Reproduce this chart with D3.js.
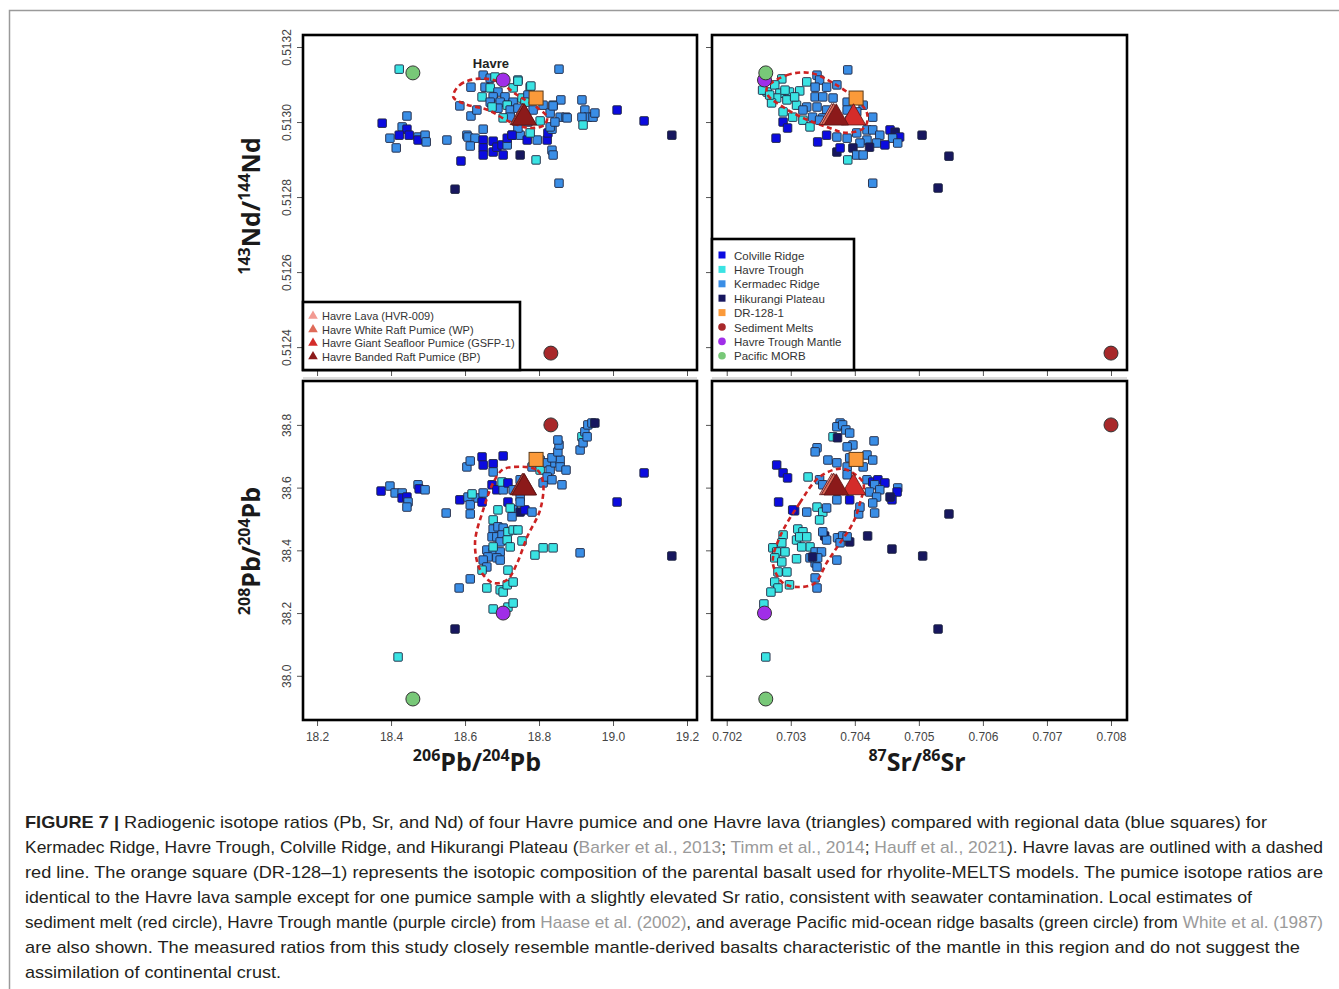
<!DOCTYPE html>
<html>
<head>
<meta charset="utf-8">
<script src="https://cdn.jsdelivr.net/npm/d3@7"></script>
<style>
  body { margin: 0; background: #fff; }
  svg { display: block; }
</style>
</head>
<body>
<div id="chart"></div>
<script>
// ---- regional data: [group, x, y] per panel ----
// C = Colville Ridge, H = Havre Trough, K = Kermadec Ridge, P = Hikurangi Plateau
var groupCodes = ["C", "H", "K", "P"];
var groupNames = ["Colville Ridge", "Havre Trough", "Kermadec Ridge", "Hikurangi Plateau"];
var groupColors = ["#0b0be0", "#3ae3e3", "#3a8ee6", "#17175f"];

// 143Nd/144Nd vs 206Pb/204Pb
var ndPbPts = [
  ["C",18.376,0.512997],["K",18.443,0.513016],["K",18.430,0.512987],["C",18.443,0.512981],
  ["C",18.422,0.512965],["K",18.397,0.512957],["C",18.449,0.512965],["K",18.414,0.512931],
  ["K",18.473,0.512960],["C",18.473,0.512952],["K",18.492,0.512965],["K",18.495,0.512947],
  ["K",18.551,0.512952],["H",18.422,0.513141],["K",18.586,0.513043],["K",18.616,0.513093],
  ["K",18.616,0.513016],["K",18.649,0.512981],["K",18.605,0.512965],["K",18.608,0.512960],
  ["K",18.627,0.512957],["K",18.614,0.512936],["C",18.649,0.512952],["C",18.649,0.512931],
  ["C",18.649,0.512912],["C",18.676,0.512920],["C",18.676,0.512949],["C",18.686,0.512933],
  ["C",18.703,0.512912],["C",18.700,0.512939],["K",18.714,0.512939],["C",18.714,0.512957],
  ["K",18.727,0.512965],["K",18.749,0.512965],["C",18.768,0.512952],["P",18.749,0.512912],
  ["C",18.589,0.512896],["P",18.573,0.512821],["H",18.792,0.512899],["K",18.795,0.512952],
  ["C",18.822,0.512952],["C",18.824,0.512971],["K",18.835,0.512981],["K",18.835,0.512925],
  ["K",18.838,0.512912],["K",18.854,0.512837],["K",18.854,0.513141],
  ["K",18.649,0.513125],["K",18.668,0.513117],["H",18.681,0.513120],["H",18.743,0.513112],
  ["K",18.654,0.513093],["H",18.668,0.513091],["H",18.730,0.513091],["H",18.776,0.513093],
  ["K",18.689,0.513080],["K",18.708,0.513067],["K",18.676,0.513067],["H",18.646,0.513067],
  ["H",18.754,0.513064],["K",18.770,0.513072],["K",18.730,0.513053],["K",18.695,0.513053],
  ["K",18.668,0.513053],["H",18.714,0.513045],["K",18.722,0.513032],["H",18.762,0.513053],
  ["K",18.811,0.513045],["H",18.838,0.513045],["K",18.859,0.513059],["K",18.743,0.513037],
  ["K",18.689,0.513037],["H",18.673,0.513040],["K",18.632,0.513032],["K",18.784,0.513032],
  ["K",18.830,0.513024],["K",18.857,0.513013],["K",18.873,0.513013],["K",18.722,0.513013],
  ["H",18.703,0.513011],["H",18.803,0.513003],["K",18.770,0.513000],["K",18.830,0.512987],
  ["K",18.843,0.513000],["K",18.916,0.513059],["K",18.924,0.513032],["K",18.932,0.513013],
  ["K",18.916,0.513013],["K",18.946,0.513013],["K",18.951,0.513024],["H",18.919,0.512992],
  ["K",18.743,0.512984],["H",18.776,0.512971],["C",18.727,0.512965],["C",19.011,0.513032],
  ["C",19.084,0.513003],["P",19.159,0.512965],["K",18.876,0.513011],["K",18.838,0.513043],
  ["H",18.743,0.513109],["H",18.778,0.513096]
];

// 143Nd/144Nd vs 87Sr/86Sr
var ndSrPts = [
  ["K",0.70389,0.513139],["H",0.70263,0.513080],["H",0.70256,0.513085],["H",0.70286,0.513115],
  ["H",0.70275,0.513099],["H",0.70283,0.513077],["H",0.70298,0.513080],["H",0.70314,0.513083],
  ["H",0.70278,0.513064],["H",0.70294,0.513059],["H",0.70309,0.513045],["H",0.70270,0.513051],
  ["H",0.70288,0.513027],["H",0.70303,0.513013],["H",0.70319,0.513005],["H",0.70330,0.512987],
  ["H",0.70325,0.513107],["H",0.70267,0.513072],["H",0.70306,0.513067],["H",0.70291,0.513085],
  ["K",0.70341,0.513125],["K",0.70345,0.513112],["K",0.70338,0.513093],["K",0.70356,0.513093],
  ["K",0.70372,0.513099],["K",0.70338,0.513067],["K",0.70350,0.513067],["K",0.70366,0.513064],
  ["K",0.70388,0.513053],["K",0.70325,0.513040],["K",0.70341,0.513040],["K",0.70356,0.513032],
  ["K",0.70334,0.513013],["K",0.70350,0.513011],["K",0.70319,0.513032],["K",0.70413,0.513045],
  ["K",0.70428,0.513013],["C",0.70288,0.513000],["C",0.70295,0.512984],["C",0.70277,0.512957],
  ["C",0.70342,0.512947],["C",0.70356,0.512965],["K",0.70372,0.512960],["K",0.70388,0.512957],
  ["K",0.70403,0.512971],["K",0.70419,0.512979],["K",0.70428,0.512979],["K",0.70439,0.512965],
  ["K",0.70419,0.512952],["K",0.70434,0.512944],["K",0.70408,0.512944],["C",0.70455,0.512979],
  ["P",0.70463,0.512973],["C",0.70470,0.512960],["K",0.70459,0.512957],["K",0.70467,0.512944],
  ["C",0.70447,0.512939],["P",0.70423,0.512933],["P",0.70397,0.512931],["P",0.70372,0.512920],
  ["C",0.70377,0.512931],["K",0.70403,0.512912],["K",0.70413,0.512912],["H",0.70389,0.512899],
  ["K",0.70428,0.512837],["P",0.70505,0.512965],["P",0.70547,0.512909],["P",0.70530,0.512824],
  ["K",0.70388,0.513032],["K",0.70403,0.513027],["K",0.70392,0.513005],["K",0.70345,0.513005]
];

// 208Pb/204Pb vs 206Pb/204Pb
var pbPbPts = [
  ["C",18.373,38.589],["K",18.397,38.605],["K",18.411,38.583],["K",18.430,38.583],
  ["C",18.430,38.567],["C",18.443,38.570],["K",18.446,38.554],["K",18.443,38.538],
  ["K",18.473,38.609],["C",18.476,38.596],["K",18.492,38.593],["K",18.549,38.519],
  ["C",18.586,38.561],["K",18.584,38.280],["K",18.614,38.309],["P",18.573,38.149],
  ["H",18.419,38.060],["K",18.605,38.666],["K",18.614,38.685],["C",18.646,38.698],
  ["C",18.649,38.672],["C",18.676,38.676],["C",18.703,38.701],["K",18.676,38.650],
  ["K",18.608,38.570],["K",18.614,38.545],["K",18.614,38.516],["K",18.635,38.567],
  ["K",18.649,38.583],["H",18.619,38.580],["C",18.646,38.554],["C",18.673,38.609],
  ["C",18.686,38.593],["K",18.703,38.593],["H",18.700,38.618],["C",18.716,38.615],
  ["C",18.716,38.554],["K",18.730,38.593],["K",18.749,38.625],["K",18.749,38.570],
  ["K",18.730,38.529],["P",18.749,38.522],["C",18.762,38.529],["K",18.781,38.522],
  ["H",18.689,38.529],["H",18.676,38.497],["K",18.727,38.507],["K",18.749,38.554],
  ["H",18.722,38.535],["K",18.781,38.666],["H",18.803,38.656],["K",18.811,38.615],
  ["K",18.803,38.688],["K",18.822,38.679],["K",18.830,38.656],["K",18.822,38.634],
  ["K",18.835,38.625],["K",18.843,38.679],["K",18.857,38.688],["K",18.857,38.666],
  ["K",18.835,38.695],["K",18.851,38.714],["K",18.854,38.736],["K",18.851,38.752],
  ["K",18.873,38.656],["K",18.862,38.609],["K",18.911,38.720],["H",18.916,38.762],
  ["K",18.924,38.778],["K",18.932,38.800],["K",18.943,38.806],["P",18.951,38.806],
  ["K",18.919,38.743],["K",18.930,38.762],["C",19.084,38.647],["C",19.011,38.554],
  ["K",18.911,38.392],["P",19.159,38.382],["K",18.676,38.468],["K",18.689,38.475],
  ["K",18.703,38.471],["K",18.673,38.443],["K",18.686,38.443],["K",18.700,38.449],
  ["H",18.716,38.459],["H",18.730,38.465],["H",18.743,38.465],["K",18.695,38.427],
  ["H",18.714,38.433],["H",18.722,38.411],["H",18.754,38.430],["K",18.659,38.401],
  ["K",18.676,38.395],["K",18.695,38.395],["K",18.662,38.379],["K",18.649,38.369],
  ["K",18.686,38.376],["K",18.695,38.369],["K",18.659,38.347],["H",18.646,38.337],
  ["H",18.676,38.411],["H",18.789,38.385],["H",18.811,38.408],["H",18.838,38.408],
  ["H",18.716,38.337],["H",18.659,38.280],["H",18.695,38.274],["H",18.703,38.267],
  ["H",18.714,38.290],["H",18.730,38.299],["H",18.676,38.213],["H",18.716,38.219],
  ["H",18.730,38.232]
];

// 208Pb/204Pb vs 87Sr/86Sr
var pbSrPts = [
  ["K",0.70377,38.806],["K",0.70372,38.794],["K",0.70381,38.800],["K",0.70386,38.784],
  ["K",0.70392,38.774],["H",0.70366,38.762],["P",0.70373,38.759],["K",0.70397,38.736],
  ["K",0.70388,38.730],["K",0.70430,38.749],["K",0.70341,38.727],["K",0.70338,38.714],
  ["K",0.70358,38.688],["K",0.70372,38.679],["K",0.70392,38.695],["K",0.70419,38.704],
  ["K",0.70428,38.688],["K",0.70413,38.666],["K",0.70388,38.666],["C",0.70278,38.672],
  ["C",0.70288,38.647],["C",0.70295,38.631],["H",0.70327,38.634],["K",0.70345,38.625],
  ["K",0.70350,38.609],["K",0.70388,38.641],["K",0.70419,38.625],["C",0.70428,38.618],
  ["C",0.70436,38.625],["C",0.70447,38.615],["K",0.70431,38.609],["K",0.70423,38.586],
  ["K",0.70439,38.593],["K",0.70434,38.570],["K",0.70428,38.551],["K",0.70431,38.519],
  ["K",0.70467,38.599],["C",0.70466,38.586],["C",0.70458,38.561],["P",0.70455,38.570],
  ["C",0.70281,38.554],["C",0.70306,38.526],["K",0.70325,38.522],["H",0.70341,38.538],
  ["H",0.70350,38.522],["K",0.70356,38.535],["H",0.70345,38.497],["K",0.70372,38.561],
  ["C",0.70392,38.561],["K",0.70406,38.516],["K",0.70408,38.538],["P",0.70547,38.516],
  ["P",0.70420,38.446],["P",0.70458,38.404],["P",0.70506,38.382],["P",0.70530,38.149],
  ["H",0.70311,38.468],["H",0.70319,38.459],["H",0.70309,38.433],["H",0.70314,38.443],
  ["H",0.70325,38.443],["H",0.70330,38.411],["H",0.70317,38.411],["H",0.70309,38.373],
  ["H",0.70288,38.449],["H",0.70286,38.424],["H",0.70272,38.408],["H",0.70278,38.395],
  ["H",0.70291,38.395],["H",0.70275,38.376],["H",0.70286,38.363],["H",0.70294,38.331],
  ["H",0.70280,38.331],["H",0.70275,38.299],["H",0.70280,38.280],["H",0.70269,38.267],
  ["H",0.70298,38.290],["H",0.70258,38.229],["H",0.70261,38.060],["K",0.70338,38.360],
  ["K",0.70330,38.376],["K",0.70338,38.395],["K",0.70348,38.395],["K",0.70342,38.376],
  ["P",0.70334,38.379],["P",0.70353,38.446],["K",0.70356,38.433],["K",0.70350,38.459],
  ["K",0.70372,38.369],["K",0.70341,38.347],["K",0.70338,38.312],["K",0.70341,38.280],
  ["K",0.70373,38.440],["K",0.70381,38.446],["K",0.70377,38.424],["P",0.70392,38.427],
  ["K",0.70388,38.443],["C",0.70303,38.529]
];

// ---- Havre samples (triangles) ----
var havreNames = ["Havre Lava (HVR-009)", "Havre White Raft Pumice (WP)",
                  "Havre Giant Seafloor Pumice (GSFP-1)", "Havre Banded Raft Pumice (BP)"];
var havreColors = ["#f29a92", "#df6a58", "#d42c2a", "#8c1a1a"];
var havrePb206 = [18.755, 18.757, 18.760, 18.760];
var havrePb208 = [38.600, 38.601, 38.600, 38.599];
var havreSr = [0.70364, 0.70367, 0.70398, 0.70371];
var havreNd = [0.513012, 0.513012, 0.513011, 0.513011];

// ---- end members ----
var refNames = ["DR-128-1", "Sediment Melts", "Havre Trough Mantle", "Pacific MORB"];
var refColors = ["#fb9a3a", "#a8282a", "#a02ee8", "#78c878"];
var refPb206 = [18.792, 18.832, 18.703, 18.459];
var refPb208 = [38.690, 38.800, 38.200, 37.926];
var refSr = [0.70402, 0.70800, 0.70259, 0.70261];
var refNd = [0.513064, 0.512384, 0.513112, 0.513131];

// ---- Havre lava outlines (dashed) ----
var outlineNdPb = [[18.568,0.513067],[18.586,0.513099],[18.632,0.513115],[18.686,0.513109],
  [18.741,0.513072],[18.797,0.513037],[18.822,0.513013],[18.814,0.512992],[18.776,0.512984],
  [18.722,0.513000],[18.662,0.513032],[18.600,0.513048]];
var outlineNdSr = [[0.70263,0.513093],[0.70294,0.513125],[0.70330,0.513131],[0.70366,0.513104],
  [0.70403,0.513059],[0.70419,0.513024],[0.70416,0.512987],[0.70388,0.512971],[0.70356,0.512987],
  [0.70319,0.513011],[0.70288,0.513040],[0.70264,0.513072]];
var outlinePbPb = [[18.730,38.666],[18.795,38.656],[18.811,38.615],[18.803,38.529],[18.768,38.443],
  [18.741,38.360],[18.714,38.306],[18.676,38.296],[18.641,38.337],[18.627,38.424],[18.649,38.529],
  [18.676,38.615],[18.700,38.656]];
var outlinePbSr = [[0.70283,38.443],[0.70314,38.551],[0.70345,38.634],[0.70381,38.660],
  [0.70413,38.615],[0.70408,38.551],[0.70397,38.487],[0.70377,38.424],[0.70356,38.360],
  [0.70338,38.296],[0.70314,38.283],[0.70288,38.296],[0.70272,38.360]];

// ---- tick values ----
var ndTicks = [0.5124, 0.5126, 0.5128, 0.5130, 0.5132];
var pb208Ticks = [38.0, 38.2, 38.4, 38.6, 38.8];
var pb206Ticks = [18.2, 18.4, 18.6, 18.8, 19.0, 19.2];
var srTicks = [0.702, 0.703, 0.704, 0.705, 0.706, 0.707, 0.708];

var W = 1339, H = 989;
var font = "'Liberation Sans', Arial, sans-serif";

var svg = d3.select("#chart").append("svg")
    .attr("width", W)
    .attr("height", H)
    .style("font-family", font);

svg.append("rect").attr("width", W).attr("height", H).attr("fill", "#fff");

// thin page frame (top and left)
svg.append("path")
    .attr("d", "M9.5,989V10.5H1339")
    .attr("fill", "none")
    .attr("stroke", "#9a9a9a")
    .attr("stroke-width", 1.5);

// scales for the four panels
var xPb = d3.scaleLinear().domain([18.162, 19.227]).range([303, 697]);
var xSr = d3.scaleLinear().domain([0.70177, 0.70825]).range([712, 1127]);
var yNd = d3.scaleLinear().domain([0.512339, 0.513232]).range([370, 35]);
var yPb = d3.scaleLinear().domain([37.859, 38.94]).range([720, 381]);

function drawPanel(o) {
    var g = svg.append("g");
    var x0 = o.x.range()[0], x1 = o.x.range()[1];
    var y0 = o.y.range()[1], y1 = o.y.range()[0];

    // x axis
    var ax = g.append("g")
        .attr("transform", "translate(0," + (y1 + 1) + ")")
        .call(d3.axisBottom(o.x).tickValues(o.xTicks).tickSize(5).tickPadding(6)
            .tickFormat(o.xLab ? d3.format(o.xFmt) : ""));
    ax.select(".domain").remove();
    ax.selectAll("line").attr("stroke", "#555");
    ax.selectAll("text").attr("fill", "#444").style("font-size", "12px").style("font-family", font);

    // y axis, labels turned on their side
    var ay = g.append("g")
        .attr("transform", "translate(" + (x0 - 1) + ",0)")
        .call(d3.axisLeft(o.y).tickValues(o.yTicks).tickSize(5)
            .tickFormat(o.yLab ? d3.format(o.yFmt) : ""));
    ay.select(".domain").remove();
    ay.selectAll("line").attr("stroke", "#555");
    ay.selectAll("text")
        .attr("x", null)
        .attr("dy", null)
        .attr("text-anchor", "middle")
        .attr("transform", "translate(-11,0) rotate(-90)")
        .attr("fill", "#444")
        .style("font-size", "12px")
        .style("font-family", font);

    if (o.xLine) {
        g.append("line")
            .attr("x1", x0).attr("x2", x1)
            .attr("y1", y1 + 8).attr("y2", y1 + 8)
            .attr("stroke", "#bbb").attr("stroke-width", 1);
    }

    // regional squares
    g.selectAll("rect.pt")
        .data(o.pts)
        .join("rect")
        .attr("class", "pt")
        .attr("x", function(d) { return o.x(d[1]) - 4.25; })
        .attr("y", function(d) { return o.y(d[2]) - 4.25; })
        .attr("width", 8.5)
        .attr("height", 8.5)
        .attr("rx", 1)
        .attr("fill", function(d) { return groupColors[groupCodes.indexOf(d[0])]; })
        .attr("stroke", "#1e2540")
        .attr("stroke-width", 0.9);

    // dashed outline of Havre lavas
    g.append("path")
        .datum(o.outline)
        .attr("d", d3.line()
            .x(function(d) { return o.x(d[0]); })
            .y(function(d) { return o.y(d[1]); })
            .curve(d3.curveCatmullRomClosed.alpha(0.5)))
        .attr("fill", "none")
        .attr("stroke", "#cc2222")
        .attr("stroke-width", 2.6)
        .attr("stroke-dasharray", "5,3.5");

    // DR-128-1 square
    g.append("rect")
        .attr("x", o.x(o.rx[0]) - 7)
        .attr("y", o.y(o.ry[0]) - 7)
        .attr("width", 14)
        .attr("height", 14)
        .attr("fill", refColors[0])
        .attr("stroke", "#5a3a1a")
        .attr("stroke-width", 1);

    // Havre triangles
    g.selectAll("path.tri")
        .data(d3.range(havreNames.length))
        .join("path")
        .attr("class", "tri")
        .attr("d", d3.symbol(d3.symbolTriangle, 260))
        .attr("transform", function(i) {
            return "translate(" + o.x(o.hx[i]) + "," + o.y(o.hy[i]) + ")";
        })
        .attr("fill", function(i) { return havreColors[i]; })
        .attr("stroke", "#5a1414")
        .attr("stroke-width", 0.8);

    // end-member circles (sediment, mantle, MORB)
    g.selectAll("circle.ref")
        .data([1, 2, 3])
        .join("circle")
        .attr("class", "ref")
        .attr("cx", function(i) { return o.x(o.rx[i]); })
        .attr("cy", function(i) { return o.y(o.ry[i]); })
        .attr("r", 7)
        .attr("fill", function(i) { return refColors[i]; })
        .attr("stroke", "#333")
        .attr("stroke-width", 1);

    // frame
    g.append("rect")
        .attr("x", x0).attr("y", y0)
        .attr("width", x1 - x0).attr("height", y1 - y0)
        .attr("fill", "none")
        .attr("stroke", "#000")
        .attr("stroke-width", 2.6);
    return g;
}

drawPanel({ x: xPb, y: yNd, pts: ndPbPts, outline: outlineNdPb,
    hx: havrePb206, hy: havreNd, rx: refPb206, ry: refNd,
    xTicks: pb206Ticks, yTicks: ndTicks, xLab: false, yLab: true, yFmt: ".4f", xLine: true });
drawPanel({ x: xSr, y: yNd, pts: ndSrPts, outline: outlineNdSr,
    hx: havreSr, hy: havreNd, rx: refSr, ry: refNd,
    xTicks: srTicks, yTicks: ndTicks, xLab: false, yLab: false, xLine: true });
drawPanel({ x: xPb, y: yPb, pts: pbPbPts, outline: outlinePbPb,
    hx: havrePb206, hy: havrePb208, rx: refPb206, ry: refPb208,
    xTicks: pb206Ticks, yTicks: pb208Ticks, xLab: true, xFmt: ".1f", yLab: true, yFmt: ".1f" });
drawPanel({ x: xSr, y: yPb, pts: pbSrPts, outline: outlinePbSr,
    hx: havreSr, hy: havrePb208, rx: refSr, ry: refPb208,
    xTicks: srTicks, yTicks: pb208Ticks, xLab: true, xFmt: ".3f", yLab: false });

// "Havre" tag above the lava field
svg.append("text")
    .attr("x", xPb(18.670))
    .attr("y", yNd(0.513200) + 21)
    .attr("text-anchor", "middle")
    .attr("fill", "#222")
    .style("font-size", "13px")
    .style("font-weight", "bold")
    .text("Havre");

// legend of Havre samples (top-left panel)
var leg1 = svg.append("g").attr("transform", "translate(303,302)");
leg1.append("rect").attr("width", 217).attr("height", 68)
    .attr("fill", "#fff").attr("stroke", "#000").attr("stroke-width", 2.6);
havreNames.forEach(function(name, i) {
    var row = leg1.append("g").attr("transform", "translate(10," + (14 + i * 13.5) + ")");
    row.append("path").attr("d", d3.symbol(d3.symbolTriangle, 40))
        .attr("fill", havreColors[i]);
    row.append("text").attr("x", 9).attr("y", 4)
        .attr("fill", "#333").style("font-size", "11px").text(name);
});

// legend of regional groups and end members (top-right panel)
var leg2 = svg.append("g").attr("transform", "translate(712,239)");
leg2.append("rect").attr("width", 142).attr("height", 131)
    .attr("fill", "#fff").attr("stroke", "#000").attr("stroke-width", 2.6);
var legItems = groupNames.map(function(n, i) { return { name: n, color: groupColors[i], shape: "sq" }; })
    .concat([{ name: refNames[0], color: refColors[0], shape: "sq" }])
    .concat(refNames.slice(1).map(function(n, i) { return { name: n, color: refColors[i + 1], shape: "ci" }; }));
legItems.forEach(function(it, i) {
    var row = leg2.append("g").attr("transform", "translate(10," + (16 + i * 14.4) + ")");
    if (it.shape === "sq") {
        row.append("rect").attr("x", -3.5).attr("y", -3.5).attr("width", 7).attr("height", 7).attr("fill", it.color);
    } else {
        row.append("circle").attr("r", 3.8).attr("fill", it.color);
    }
    row.append("text").attr("x", 12).attr("y", 4.5)
        .attr("fill", "#333").style("font-size", "11.5px").text(it.name);
});

// axis titles with superscript mass numbers
function axisTitle(x, y, rotate, parts) {
    var t = svg.append("text")
        .attr("transform", "translate(" + x + "," + y + ")" + (rotate ? " rotate(-90)" : ""))
        .attr("text-anchor", "middle")
        .attr("fill", "#1a1a1a")
        .style("font-family", "'Open Sans', 'Liberation Sans', sans-serif")
        .style("font-weight", "bold");
    var first = true;
    parts.forEach(function(p) {
        var s = t.append("tspan").style("font-size", p[1] ? "16px" : "25px").text(p[0]);
        if (p[1]) s.attr("dy", -10);
        else if (!first) s.attr("dy", 10);
        first = false;
    });
}
axisTitle(260, 206, true, [["143", 1], ["Nd/", 0], ["144", 1], ["Nd", 0]]);
axisTitle(260, 551, true, [["208", 1], ["Pb/", 0], ["204", 1], ["Pb", 0]]);
axisTitle(477, 771, false, [["206", 1], ["Pb/", 0], ["204", 1], ["Pb", 0]]);
axisTitle(917, 771, false, [["87", 1], ["Sr/", 0], ["86", 1], ["Sr", 0]]);

// figure caption, one text element per printed line
var captionLines = [
    [["FIGURE 7 | ", "b"], ["Radiogenic isotope ratios (Pb, Sr, and Nd) of four Havre pumice and one Havre lava (triangles) compared with regional data (blue squares) for", ""]],
    [["Kermadec Ridge, Havre Trough, Colville Ridge, and Hikurangi Plateau (", ""], ["Barker et al., 2013", "g"], ["; ", ""], ["Timm et al., 2014", "g"], ["; ", ""], ["Hauff et al., 2021", "g"], ["). Havre lavas are outlined with a dashed", ""]],
    [["red line. The orange square (DR-128\u20131) represents the isotopic composition of the parental basalt used for rhyolite-MELTS models. The pumice isotope ratios are", ""]],
    [["identical to the Havre lava sample except for one pumice sample with a slightly elevated Sr ratio, consistent with seawater contamination. Local estimates of", ""]],
    [["sediment melt (red circle), Havre Trough mantle (purple circle) from ", ""], ["Haase et al. (2002)", "g"], [", and average Pacific mid-ocean ridge basalts (green circle) from ", ""], ["White et al. (1987)", "g"]],
    [["are also shown. The measured ratios from this study closely resemble mantle-derived basalts characteristic of the mantle in this region and do not suggest the", ""]],
    [["assimilation of continental crust.", ""]]
];
var captionWidths = [1242, 1298, 1298, 1227, 1298, 1275, 256];

captionLines.forEach(function(line, i) {
    var t = svg.append("text")
        .attr("x", 25)
        .attr("y", 828 + i * 25)
        .attr("fill", "#231f20")
        .attr("textLength", captionWidths[i])
        .attr("lengthAdjust", "spacingAndGlyphs")
        .style("font-size", "17px");
    line.forEach(function(p) {
        var s = t.append("tspan").text(p[0]);
        if (p[1] === "b") s.style("font-weight", "bold");
        if (p[1] === "g") s.attr("fill", "#9a9a9a");
    });
});
</script>
</body>
</html>
